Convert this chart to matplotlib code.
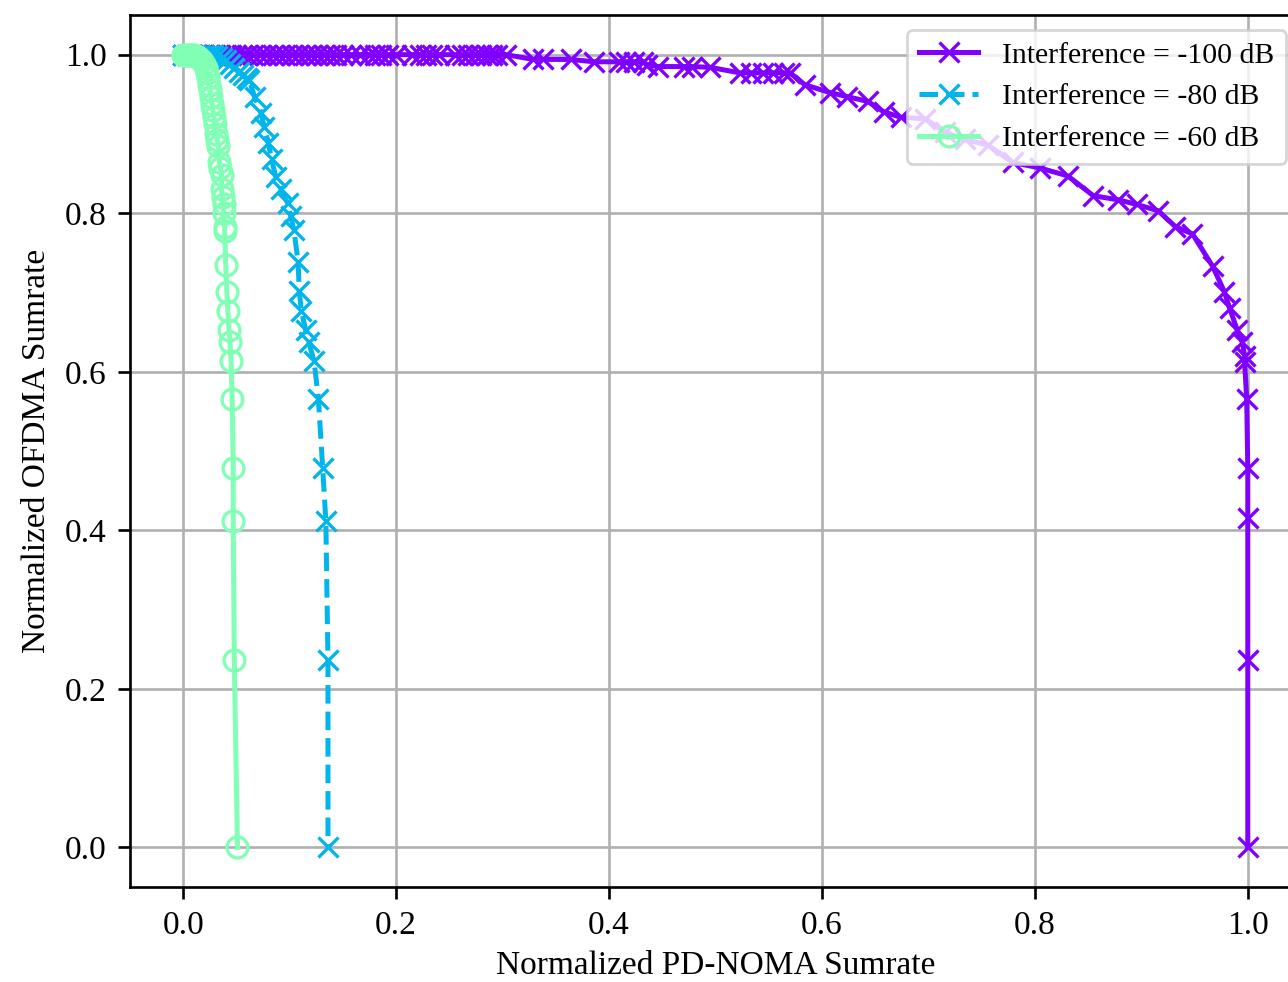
import matplotlib.pyplot as plt
import numpy as np

plt.rcParams['font.family'] = ['Liberation Serif', 'DejaVu Serif']
plt.rcParams['font.size'] = 12
plt.rcParams['axes.linewidth'] = 0.96
plt.rcParams['grid.linewidth'] = 0.96
plt.rcParams['xtick.major.size'] = 4.2
plt.rcParams['ytick.major.size'] = 4.2
plt.rcParams['xtick.major.width'] = 0.96
plt.rcParams['ytick.major.width'] = 0.96
plt.rcParams['xtick.major.pad'] = 4.2
plt.rcParams['ytick.major.pad'] = 4.2

# -100 dB: normalized PD-NOMA sumrate (x) vs normalized OFDMA sumrate (y)
noma_100 = [0.0, 0.004, 0.008, 0.012, 0.016, 0.02, 0.025, 0.03, 0.035, 0.04,
            0.045, 0.05, 0.055, 0.06, 0.066, 0.072, 0.078, 0.084, 0.09, 0.096,
            0.102, 0.108, 0.114, 0.12, 0.126, 0.132, 0.138, 0.144, 0.15, 0.158,
            0.166, 0.175, 0.18, 0.186, 0.192, 0.2, 0.215, 0.222, 0.228, 0.234,
            0.24, 0.255, 0.262, 0.268, 0.274, 0.28, 0.285, 0.29, 0.295, 0.303,
            0.329, 0.338, 0.364, 0.386, 0.409, 0.416, 0.423, 0.432, 0.436, 0.446,
            0.470, 0.478, 0.495, 0.523, 0.533, 0.545, 0.554, 0.564, 0.570, 0.584,
            0.608, 0.624, 0.643, 0.658, 0.674, 0.697, 0.716, 0.734, 0.756, 0.779,
            0.805, 0.831, 0.855, 0.878, 0.896, 0.916, 0.932, 0.948, 0.967, 0.978,
            0.983, 0.990, 0.995, 0.997, 0.997, 0.999, 1.0, 1.0, 1.0, 1.0]
ofdma_100 = [1.0] * 50 + [
    0.994, 0.994, 0.994, 0.991, 0.991, 0.991, 0.991, 0.991, 0.987, 0.985,
    0.985, 0.985, 0.984, 0.977, 0.977, 0.977, 0.977, 0.977, 0.977, 0.962,
    0.952, 0.947, 0.941, 0.928, 0.921, 0.919, 0.902, 0.893, 0.886, 0.864,
    0.857, 0.847, 0.822, 0.817, 0.811, 0.803, 0.783, 0.774, 0.733, 0.701,
    0.680, 0.653, 0.637, 0.620, 0.612, 0.566, 0.479, 0.415, 0.237, 0.0]

# -80 dB
noma_80 = [0.0, 0.004, 0.008, 0.012, 0.016, 0.02, 0.024, 0.028, 0.032, 0.036,
           0.04, 0.044, 0.048, 0.052, 0.056, 0.06, 0.062, 0.067, 0.073, 0.076,
           0.080, 0.083, 0.087, 0.092, 0.098, 0.101, 0.104, 0.108, 0.109, 0.111,
           0.115, 0.118, 0.123, 0.127, 0.131, 0.134, 0.136, 0.136]
ofdma_80 = [1.0, 1.0, 1.0, 1.0, 1.0, 1.0, 1.0, 0.999, 0.998, 0.996,
            0.993, 0.988, 0.983, 0.978, 0.974, 0.970, 0.968, 0.947, 0.927, 0.909,
            0.889, 0.868, 0.846, 0.830, 0.813, 0.796, 0.779, 0.738, 0.702, 0.677,
            0.653, 0.637, 0.613, 0.566, 0.479, 0.412, 0.236, 0.0]

# -60 dB
noma_60 = [0.0, 0.002, 0.004, 0.006, 0.008, 0.010, 0.012, 0.014, 0.016, 0.018,
           0.020, 0.021, 0.022, 0.023, 0.024, 0.025, 0.026, 0.027, 0.028, 0.029,
           0.030, 0.031, 0.032, 0.033, 0.034, 0.035, 0.036, 0.036, 0.037, 0.038,
           0.038, 0.039, 0.039, 0.040, 0.041, 0.042, 0.043, 0.044, 0.045, 0.046,
           0.047, 0.047, 0.048, 0.051]
ofdma_60 = [1.0, 1.0, 1.0, 1.0, 1.0, 0.999, 0.998, 0.997, 0.995, 0.992,
            0.988, 0.983, 0.977, 0.970, 0.962, 0.955, 0.947, 0.938, 0.930, 0.921,
            0.912, 0.900, 0.892, 0.885, 0.865, 0.857, 0.848, 0.830, 0.820, 0.812,
            0.800, 0.783, 0.777, 0.735, 0.700, 0.677, 0.653, 0.637, 0.613, 0.566,
            0.479, 0.412, 0.236, 0.0]

labels = ['Interference = -100 dB', 'Interference = -80 dB', 'Interference = -60 dB']
colors = plt.cm.rainbow(np.linspace(0, 1, 5))

fig = plt.figure(figsize=(6.44, 4.91), dpi=200)
ax = fig.add_axes([0.1009, 0.0967, 0.9092, 0.888])

style = dict(lw=1.8, ms=7.5, mew=1.2)
ax.plot(noma_100, ofdma_100, '-x', color=colors[0], label=labels[0], **style)
ax.plot(noma_80, ofdma_80, '--x', color=colors[1], label=labels[1], **style)
ax.plot(noma_60, ofdma_60, '-o', color=colors[2], mfc='none', label=labels[2], **style)

ax.set_xlim(-0.05, 1.05)
ax.set_ylim(-0.05, 1.05)
ax.set_xticks([0.0, 0.2, 0.4, 0.6, 0.8, 1.0])
ax.set_yticks([0.0, 0.2, 0.4, 0.6, 0.8, 1.0])
ax.set_xlabel('Normalized PD-NOMA Sumrate', labelpad=3.5)
ax.set_ylabel('Normalized OFDMA Sumrate', labelpad=4.5)
ax.grid(True)
ax.legend(loc='upper right', fontsize=10.7)

fig.savefig('out.png', dpi=200)
